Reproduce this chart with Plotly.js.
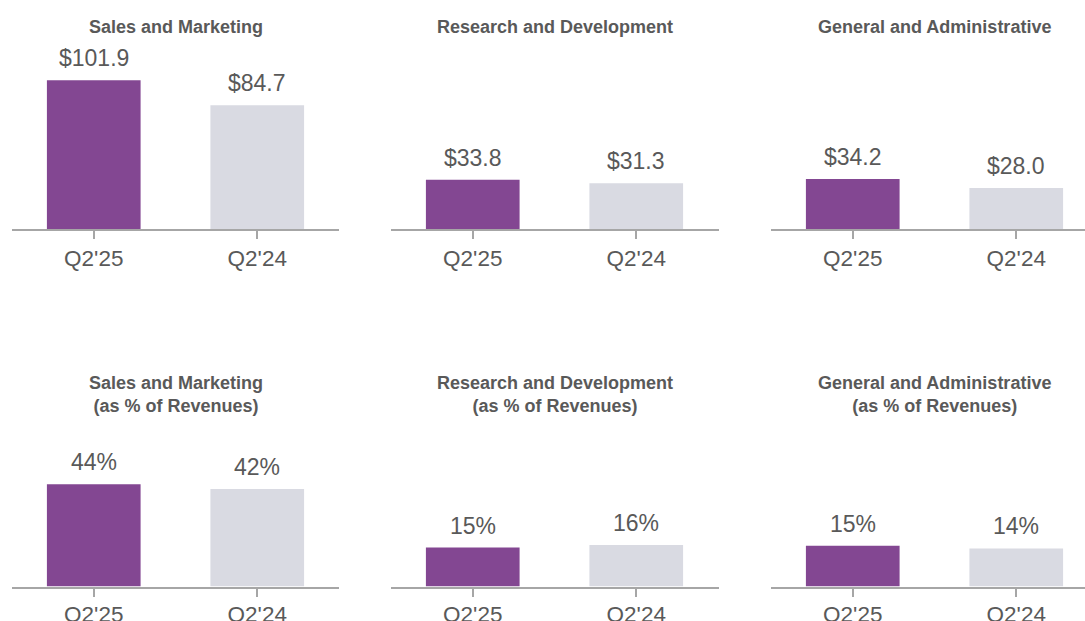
<!DOCTYPE html>
<html>
<head>
<meta charset="utf-8">
<script src="https://cdn.plot.ly/plotly-3.0.1.min.js"></script>
<style>html,body{margin:0;padding:0;background:#fff;}#chart{width:1085px;height:621px;}</style>
</head>
<body>
<div id="chart"></div>
<script>
// ---- data ----
const categories = ["Q2'25", "Q2'24"];
const topTitles = ["Sales and Marketing", "Research and Development", "General and Administrative"];
const bottomTitles = ["Sales and Marketing<br>(as % of Revenues)", "Research and Development<br>(as % of Revenues)", "General and Administrative<br>(as % of Revenues)"];
const salesMarketingUsd = [101.9, 84.7];
const researchDevUsd = [33.8, 31.3];
const generalAdminUsd = [34.2, 28.0];
const salesMarketingPct = [44, 42];
const researchDevPct = [15, 16];
const generalAdminPct = [15, 14];

// ---- style ----
const PURPLE = '#834792';
const GREY = '#d9dae2';
const TEXT = '#595959';
const AXIS = '#a6a6a6';
const FONT = 'Liberation Sans, Arial, Helvetica, sans-serif';

const W = 1085, H = 621;
const colX = [[12, 339], [391, 719], [771, 1085]];
const colCenters = [175.5, 555, 934.5];
const topRow = [60, 229];
const botRow = [460, 586.5];
const topMax = 115.75;
const botMax = [54.5, 48.65, 46.5];

const usdSeries = [salesMarketingUsd, researchDevUsd, generalAdminUsd];
const pctSeries = [salesMarketingPct, researchDevPct, generalAdminPct];

const traces = [];
const layout = {
  width: W, height: H,
  margin: {l: 0, r: 0, t: 0, b: 0},
  paper_bgcolor: '#fff', plot_bgcolor: '#fff',
  showlegend: false,
  bargap: 0.427,
  font: {family: FONT, color: TEXT},
  annotations: []
};

function addAxes(idx, col, row) {
  const xs = colX[col];
  const rows = row === 0 ? topRow : botRow;
  const spacing = 163.5;
  const xmax = -0.5 + (xs[1] - xs[0]) / spacing;
  const sfx = idx === 1 ? '' : String(idx);
  layout['xaxis' + sfx] = {
    domain: [xs[0] / W, xs[1] / W],
    anchor: 'y' + sfx,
    range: [-0.5, xmax],
    showline: true, linecolor: AXIS, linewidth: 2,
    ticks: 'outside', ticklen: 8, tickwidth: 2, tickcolor: AXIS,
    ticklabelstandoff: row === 0 ? 0 : -2,
    tickfont: {size: 22.5, color: TEXT, family: FONT},
    showgrid: false, zeroline: false, fixedrange: true
  };
  layout['yaxis' + sfx] = {
    domain: [1 - rows[1] / H, 1 - rows[0] / H],
    anchor: 'x' + sfx,
    range: [0, row === 0 ? topMax : botMax[col]],
    visible: false, showgrid: false, zeroline: false, fixedrange: true
  };
}

function addPanel(idx, col, row, values, fmt) {
  const sfx = idx === 1 ? '' : String(idx);
  addAxes(idx, col, row);
  traces.push({
    type: 'bar', x: categories, y: values,
    xaxis: 'x' + sfx, yaxis: 'y' + sfx,
    marker: {color: [PURPLE, GREY], line: {width: 0}},
    hoverinfo: 'skip'
  });
  values.forEach((v, i) => {
    layout.annotations.push({
      xref: 'x' + sfx, yref: 'y' + sfx, x: categories[i], y: v,
      text: fmt(v), showarrow: false, yanchor: 'bottom', yshift: 7,
      font: {size: 23, color: TEXT, family: FONT}
    });
  });
}

for (let c = 0; c < 3; c++) {
  addPanel(c + 1, c, 0, usdSeries[c], v => '$' + v.toFixed(1));
  addPanel(c + 4, c, 1, pctSeries[c], v => v + '%');
  layout.annotations.push({
    xref: 'paper', yref: 'paper', x: colCenters[c] / W, y: 1 - 27 / H,
    text: '<b>' + topTitles[c] + '</b>', showarrow: false, yanchor: 'middle', xanchor: 'center',
    font: {size: 18, color: TEXT, family: FONT}
  });
  layout.annotations.push({
    xref: 'paper', yref: 'paper', x: colCenters[c] / W, y: 1 - 394 / H,
    text: '<b>' + bottomTitles[c] + '</b>', showarrow: false, yanchor: 'middle', xanchor: 'center',
    font: {size: 18, color: TEXT, family: FONT}
  });
}

Plotly.newPlot('chart', traces, layout, {displayModeBar: false, staticPlot: true});
</script>
</body>
</html>
